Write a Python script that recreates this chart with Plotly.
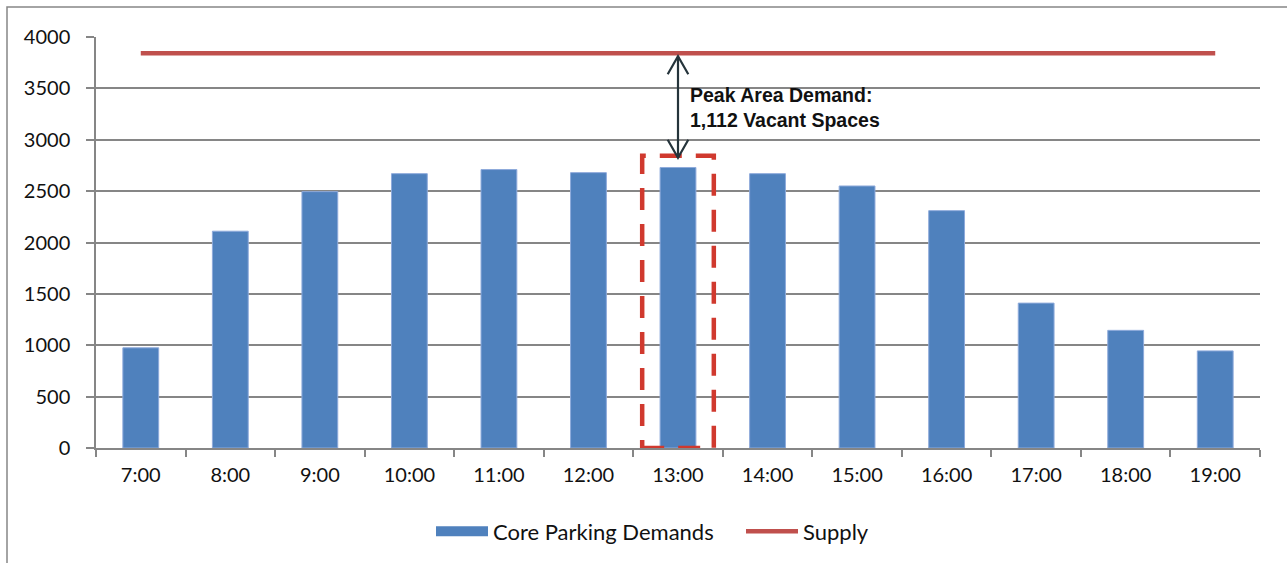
import plotly.graph_objects as go

hours = ["7:00", "8:00", "9:00", "10:00", "11:00", "12:00", "13:00",
         "14:00", "15:00", "16:00", "17:00", "18:00", "19:00"]
demand = [975, 2110, 2495, 2670, 2710, 2680, 2730, 2670, 2550, 2310, 1410, 1145, 945]
supply_value = 3842
supply = [supply_value] * len(hours)
peak_hour = "13:00"
vacant = supply_value - max(demand)
annotation_lines = ["Peak Area Demand:", f"{vacant:,} Vacant Spaces"]
y_ticks = [0, 500, 1000, 1500, 2000, 2500, 3000, 3500, 4000]

W, H = 1287, 563
ml, mr, mt, mb = 96, 27, 37, 114
pw, ph = W - ml - mr, H - mt - mb

BLUE = "#4F81BD"
RED = "#C0504D"

fig = go.Figure()
fig.add_trace(go.Bar(
    x=hours, y=demand, name="Core Parking Demands",
    marker=dict(color=BLUE, line=dict(color="#8EAADB", width=1)),
    width=0.4, showlegend=False, legendgroup="d",
))
# legend key for the bars (wide patch like the original)
fig.add_trace(go.Scatter(
    x=[None], y=[None], name="Core Parking Demands", mode="lines",
    line=dict(color=BLUE, width=14), legendgroup="d", hoverinfo="skip",
))
fig.add_trace(go.Scatter(
    x=hours, y=supply, name="Supply", mode="lines",
    line=dict(color=RED, width=4.5),
))

pi = hours.index(peak_hour)
peak = max(demand)
# dashed highlight box around the peak bar
fig.add_shape(type="rect", xref="x", yref="y",
              x0=pi - 0.4, x1=pi + 0.4, y0=0, y1=peak + 115,
              line=dict(color="#D0392E", width=4.5, dash="22px,14px"),
              fillcolor="rgba(0,0,0,0)", layer="above")

# double-headed arrow between supply and peak
top_tip = supply_value - 30
bot_tip = peak + 95
ac = "#25343B"
fig.add_shape(type="line", xref="x", yref="y", x0=pi, x1=pi, y0=bot_tip, y1=top_tip,
              line=dict(color=ac, width=2.2))
dx, dy = 0.115, 175
fig.add_shape(type="path", xref="x", yref="y",
              path=f"M {pi-dx},{top_tip-dy} L {pi},{top_tip} L {pi+dx},{top_tip-dy}",
              line=dict(color=ac, width=2.2))
fig.add_shape(type="path", xref="x", yref="y",
              path=f"M {pi-dx},{bot_tip+dy} L {pi},{bot_tip} L {pi+dx},{bot_tip+dy}",
              line=dict(color=ac, width=2.2))

fig.add_annotation(xref="x", yref="y", x=pi + 0.11, y=3310,
                   text="<br>".join(f"<b>{t}</b>" for t in annotation_lines),
                   showarrow=False, xanchor="left", yanchor="middle", align="left",
                   font=dict(family="Liberation Sans, Arial", size=19.5, color="#111111"))

# outer chart frame
fig.add_shape(type="rect", xref="paper", yref="paper",
              x0=(7 - ml) / pw, x1=1 + 60 / pw,
              y0=-(mb + 20) / ph, y1=1 + (mt - 7) / ph,
              line=dict(color="#868686", width=1.5), fillcolor="rgba(0,0,0,0)", layer="below")

grid = "#868686"
fig.update_layout(
    width=W, height=H,
    margin=dict(l=ml, r=mr, t=mt, b=mb, pad=0),
    paper_bgcolor="white", plot_bgcolor="white",
    font=dict(family="Lato, Carlito, sans-serif", size=20, color="#111111"),
    bargap=0.6,
    showlegend=True,
    legend=dict(orientation="h", x=(431 - ml) / pw, xanchor="left", y=-0.2, yanchor="middle",
                font=dict(size=22), itemwidth=52, traceorder="normal",
                entrywidth=243, entrywidthmode="pixels"),
    xaxis=dict(type="category", showgrid=False, showline=True, linecolor=grid, linewidth=1.5,
               ticks="outside", tickson="boundaries", ticklen=7, tickcolor=grid, tickwidth=1.5,
               ticklabelstandoff=8, range=[-0.5, len(hours) - 0.5]),
    yaxis=dict(range=[0, 4000], tickvals=y_ticks, showgrid=True, gridcolor=grid, gridwidth=1.5,
               showline=True, linecolor=grid, linewidth=1.5, ticks="outside", ticklen=8,
               tickcolor=grid, tickwidth=1.5, zeroline=False, ticklabelstandoff=12),
)

fig.write_html("out.html")
